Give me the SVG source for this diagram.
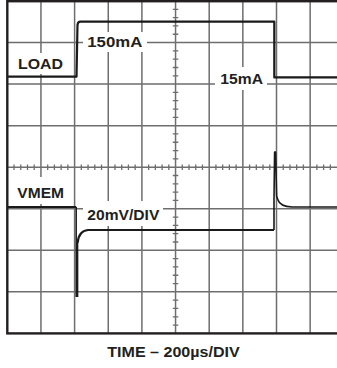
<svg xmlns="http://www.w3.org/2000/svg" width="337" height="368" viewBox="0 0 337 368">
<style>
.grid{stroke:#6e6e6e;stroke-width:1.5;fill:none}
.tick{stroke:#6e6e6e;stroke-width:1.3;fill:none}
.frame{stroke:#231f20;stroke-width:2.4;fill:none}
.trace{stroke:#1a1a1a;stroke-width:2.2;fill:none;stroke-linejoin:round}
.bg{fill:#ffffff}
.lbl{font-family:"Liberation Sans",Arial,sans-serif;font-weight:bold;font-size:15px;fill:#231f20}
</style>
<rect width="337" height="368" fill="#ffffff"/>
<g id="grid">
<path class="grid" d="M40.95 1V333.4M74.6 1V333.4M108.25 1V333.4M141.9 1V333.4M175.55 1V333.4M209.2 1V333.4M242.85 1V333.4M276.5 1V333.4M310.15 1V333.4"/>
<path class="grid" d="M7.3 42.55H337M7.3 84.1H337M7.3 125.65H337M7.3 167.2H337M7.3 208.75H337M7.3 250.3H337M7.3 291.85H337"/>
<path class="tick" d="M172.8 9.31h5.5M172.8 17.62h5.5M172.8 25.93h5.5M172.8 34.24h5.5M172.8 50.86h5.5M172.8 59.17h5.5M172.8 67.48h5.5M172.8 75.79h5.5M172.8 92.41h5.5M172.8 100.72h5.5M172.8 109.03h5.5M172.8 117.34h5.5M172.8 133.96h5.5M172.8 142.27h5.5M172.8 150.58h5.5M172.8 158.89h5.5M172.8 175.51h5.5M172.8 183.82h5.5M172.8 192.13h5.5M172.8 200.44h5.5M172.8 217.06h5.5M172.8 225.37h5.5M172.8 233.68h5.5M172.8 241.99h5.5M172.8 258.61h5.5M172.8 266.92h5.5M172.8 275.23h5.5M172.8 283.54h5.5M172.8 300.16h5.5M172.8 308.47h5.5M172.8 316.78h5.5M172.8 325.09h5.5"/>
<path class="tick" d="M14.03 164.5v5.5M20.76 164.5v5.5M27.49 164.5v5.5M34.22 164.5v5.5M47.68 164.5v5.5M54.41 164.5v5.5M61.14 164.5v5.5M67.87 164.5v5.5M81.33 164.5v5.5M88.06 164.5v5.5M94.79 164.5v5.5M101.52 164.5v5.5M114.98 164.5v5.5M121.71 164.5v5.5M128.44 164.5v5.5M135.17 164.5v5.5M148.63 164.5v5.5M155.36 164.5v5.5M162.09 164.5v5.5M168.82 164.5v5.5M182.28 164.5v5.5M189.01 164.5v5.5M195.74 164.5v5.5M202.47 164.5v5.5M215.93 164.5v5.5M222.66 164.5v5.5M229.39 164.5v5.5M236.12 164.5v5.5M249.58 164.5v5.5M256.31 164.5v5.5M263.04 164.5v5.5M269.77 164.5v5.5M283.23 164.5v5.5M289.96 164.5v5.5M296.69 164.5v5.5M303.42 164.5v5.5M316.88 164.5v5.5M323.61 164.5v5.5M330.34 164.5v5.5"/>
</g>
<g id="label-load">
<rect class="bg" x="12" y="53" width="56" height="21"/>
<text class="lbl" x="18" y="69" textLength="45" lengthAdjust="spacingAndGlyphs">LOAD</text>
</g>
<g id="label-150mA">
<rect class="bg" x="83" y="32" width="64" height="20"/>
<text class="lbl" x="87.3" y="47" textLength="55" lengthAdjust="spacingAndGlyphs">150mA</text>
</g>
<g id="label-15mA">
<rect class="bg" x="215" y="67" width="52" height="23"/>
<text class="lbl" x="220.3" y="83.5" textLength="42.7" lengthAdjust="spacingAndGlyphs">15mA</text>
</g>
<g id="label-vmem">
<rect class="bg" x="12" y="177" width="56" height="27"/>
<text class="lbl" x="17.3" y="197.7" textLength="46.7" lengthAdjust="spacingAndGlyphs">VMEM</text>
</g>
<g id="label-20mV">
<rect class="bg" x="83" y="201" width="80" height="25"/>
<text class="lbl" x="87.3" y="219.5" textLength="72" lengthAdjust="spacingAndGlyphs">20mV/DIV</text>
</g>
<g id="connectors">
<path class="trace" d="M7.3 76.7H76.5L77.5 25Q77.8 21.7 80.5 21.7H274.3V77.4H337"/>
<path class="trace" d="M7.3 207H76.2"/>
<path class="trace" style="stroke-width:1.5" d="M76.2 207V297M77.6 297V243"/>
<path class="trace" d="M77.6 243Q78.5 231 88 230H274"/>
<path class="trace" style="stroke-width:1.6" d="M274 230V200L274.6 152H275.6L276.6 196L278 200Q280 206.5 292 207H337"/>
</g>
<rect id="frame" class="frame" x="7.3" y="1.2" width="340" height="332.2"/>
<text class="lbl" x="107.3" y="357.3" textLength="132.4" lengthAdjust="spacingAndGlyphs">TIME – 200µs/DIV</text>
</svg>
